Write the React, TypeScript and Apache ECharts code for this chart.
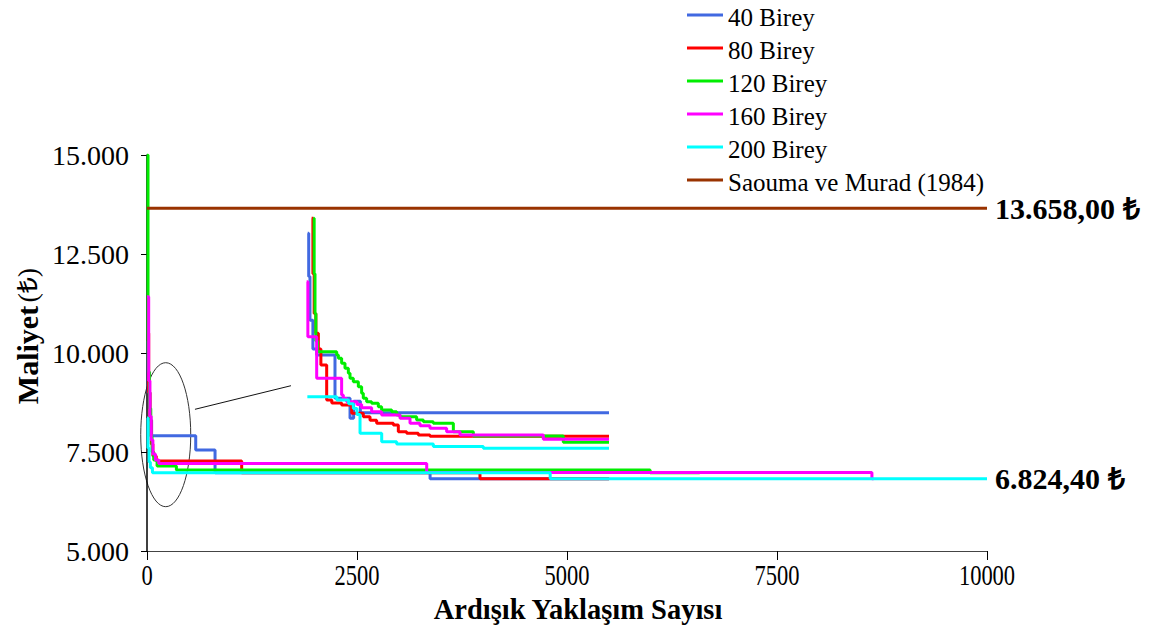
import React, { useEffect, useRef } from "react";
import * as echarts from "echarts";

// ---- axis ticks / labels ----
const X_TICKS = [0, 2500, 5000, 7500, 10000];
const Y_MIN = 5000;
const Y_MAX = 15000;
const Y_STEP = 2500;
const X_TITLE = "Ardışık Yaklaşım Sayısı";
const Y_TITLE_BOLD = "Maliyet";
const Y_TITLE_REST = "(₺)";

// ---- legend / series names ----
const NAMES = ["40 Birey", "80 Birey", "120 Birey", "160 Birey", "200 Birey", "Saouma ve Murad (1984)"];
const COLORS = ["#4169E1", "#FF0000", "#00EE00", "#FF00FF", "#00FFFF", "#993300"];

// ---- reference value ----
const SAOUMA_VALUE = 13658;
const SAOUMA_LINE = [[0, SAOUMA_VALUE], [10000, SAOUMA_VALUE]];
const RIGHT_LABELS = ["13.658,00 ₺", "6.824,40 ₺"];

// ---- main curves (x = iteration, y = best cost so far) ----
const blueMain = [[0, 10300], [15, 9000], [35, 8300], [55, 7912], [580, 7550], [810, 6975], [3370, 6824.4], [5500, 6824.4]];
const redMain = [[0, 10500], [20, 9000], [35, 8300], [50, 7700], [70, 7400], [110, 7273], [1127, 6975], [3964, 6824.4], [5500, 6824.4]];
const greenMain = [[0, 15000], [12, 10540], [18, 9520], [30, 8600], [45, 7900], [60, 7500], [80, 7300], [120, 7146], [350, 7045], [5990, 6975], [6580, 6975]];
const magentaMain = [[0, 11420], [20, 9300], [35, 8400], [50, 7800], [70, 7450], [100, 7300], [140, 7212], [3330, 6985], [8630, 6824.4], [8650, 6824.4]];
const cyanMain = [[0, 8360], [12, 7600], [25, 7250], [40, 7100], [65, 6975], [4800, 6824.4], [10000, 6824.4]];

// ---- zoomed inset curves ----
const blueInset = [[1913, 13022], [1925, 11930], [1940, 10830], [1975, 10100], [2020, 9949], [2238, 8855], [2417, 8350], [2460, 8780], [2540, 8493], [5500, 8493]];
const redInset = [[1960, 13400], [1975, 12000], [1990, 11000], [2010, 10500], [2040, 10100], [2070, 9700], [2139, 8813], [2200, 8740], [2317, 8687], [2437, 8476], [2575, 8392], [2655, 8300], [2734, 8224], [2933, 8182], [2992, 8013], [3091, 7971], [3230, 7929], [3369, 7900], [5500, 7900]];
const greenInset = [[1980, 13400], [1990, 12000], [2000, 11000], [2010, 10300], [2030, 10033], [2258, 9949], [2278, 9865], [2317, 9739], [2357, 9612], [2397, 9486], [2417, 9360], [2456, 9276], [2516, 9150], [2555, 8981], [2575, 8855], [2615, 8771], [2674, 8729], [2754, 8644], [2793, 8560], [2913, 8518], [2972, 8434], [3012, 8392], [3210, 8308], [3290, 8266], [3408, 8224], [3647, 8010], [3885, 7904], [4956, 7745], [5500, 7745]];
const magentaInset = [[1901, 11801], [1915, 10412], [2020, 9360], [2317, 8939], [2337, 8850], [2377, 8770], [2500, 8700], [2555, 8620], [2674, 8518], [2793, 8434], [3012, 8350], [3131, 8224], [3250, 8160], [3369, 8100], [3567, 8013], [3726, 7929], [4718, 7820], [5500, 7820]];
const cyanInset = [[1909, 8897], [2260, 8813], [2400, 8720], [2456, 8600], [2500, 8450], [2536, 7971], [2794, 7761], [2972, 7700], [3409, 7640], [4004, 7593], [5500, 7593]];

// ---- annotation anchors (data coords) ----
const ELLIPSE_CENTER = [223, 7937];
const CONNECTOR = [[571, 8578], [1714, 9174]];

const SERIF = "Liberation Serif";

function fmtThousands(v: number) {
  return String(v).replace(/\B(?=(\d{3})+(?!\d))/g, ".");
}

export default function App() {
  const ref = useRef<HTMLDivElement>(null);

  useEffect(() => {
    const chart = echarts.init(ref.current!, null, { renderer: "svg" });

    const endLabelStyle = {
      show: true,
      fontFamily: SERIF,
      fontWeight: "bold",
      fontSize: 30,
      color: "#000",
      distance: 8,
    };

    const mk = (idx: number, data: number[][], extra: any = {}) => ({
      type: "line",
      name: NAMES[idx],
      data,
      step: "end",
      symbol: "none",
      showSymbol: false,
      lineStyle: { color: COLORS[idx], width: 3 },
      itemStyle: { color: COLORS[idx] },
      emphasis: { disabled: true },
      ...extra,
    });

    const series = [
      mk(0, blueMain),
      mk(1, redMain),
      mk(2, greenMain),
      mk(3, magentaMain),
      mk(4, cyanMain, { endLabel: { ...endLabelStyle, formatter: RIGHT_LABELS[1] } }),
      mk(0, blueInset),
      mk(1, redInset),
      mk(2, greenInset),
      mk(3, magentaInset),
      mk(4, cyanInset),
      {
        type: "line",
        name: NAMES[5],
        data: SAOUMA_LINE,
        symbol: "none",
        showSymbol: false,
        lineStyle: { color: COLORS[5], width: 3 },
        itemStyle: { color: COLORS[5] },
        emphasis: { disabled: true },
        endLabel: { ...endLabelStyle, formatter: RIGHT_LABELS[0] },
      },
    ];

    chart.setOption({
      animation: false,
      textStyle: { fontFamily: SERIF },
      grid: { left: 147, right: 174, top: 155, bottom: 77, containLabel: false },
      xAxis: {
        type: "value",
        min: 0,
        max: 10000,
        interval: 2500,
        axisLine: { show: true, lineStyle: { color: "#444", width: 1 } },
        axisTick: { show: true, length: 9, lineStyle: { color: "#000" } },
        axisLabel: { show: false },
        splitLine: { show: false },
      },
      yAxis: {
        type: "value",
        min: Y_MIN,
        max: Y_MAX,
        interval: Y_STEP,
        axisLine: { show: true, lineStyle: { color: "#000", width: 1.5 } },
        axisTick: { show: true, length: 6, lineStyle: { color: "#000" } },
        axisLabel: {
          fontFamily: SERIF,
          fontSize: 28,
          color: "#000",
          margin: 18,
          formatter: (v: number) => fmtThousands(v),
        },
        splitLine: { show: false },
      },
      series,
    });

    const px = (p: number[]) => chart.convertToPixel({ gridIndex: 0 }, p) as number[];
    const c = px(ELLIPSE_CENTER);
    const a = px(CONNECTOR[0]);
    const b = px(CONNECTOR[1]);
    const baseY = px([0, Y_MIN])[1];

    const graphics: any[] = [
      {
        type: "ellipse",
        shape: { cx: c[0], cy: c[1], rx: 25, ry: 72 },
        style: { fill: "none", stroke: "#333", lineWidth: 1 },
        silent: true,
      },
      {
        type: "line",
        shape: { x1: a[0], y1: a[1], x2: b[0], y2: b[1] },
        style: { stroke: "#111", lineWidth: 1 },
        silent: true,
      },
    ];

    // legend (icons + labels)
    NAMES.forEach((n, i) => {
      const y = 15 + 33 * i;
      graphics.push({
        type: "line",
        silent: true,
        shape: { x1: 687, y1: y, x2: 723, y2: y },
        style: { stroke: COLORS[i], lineWidth: 3 },
      });
      graphics.push({
        type: "text",
        x: 728,
        y: y + 2,
        silent: true,
        style: {
          text: n,
          fontFamily: SERIF,
          fontSize: 25,
          fill: "#000",
          align: "left",
          verticalAlign: "middle",
          textAlign: "left",
          textVerticalAlign: "middle",
        },
      });
    });

    X_TICKS.forEach((t) => {
      const p = px([t, Y_MIN]);
      graphics.push({
        type: "text",
        x: p[0],
        y: baseY + 9,
        scaleX: 0.75,
        silent: true,
        style: {
          text: String(t),
          fontFamily: SERIF,
          fontSize: 30,
          fill: "#000",
          align: "center",
          verticalAlign: "top",
          textAlign: "center",
          textVerticalAlign: "top",
        },
      });
    });

    graphics.push({
      type: "text",
      x: 578,
      y: 609,
      scaleX: 0.95,
      silent: true,
      style: {
        text: X_TITLE,
        fontFamily: SERIF,
        fontWeight: "bold",
        fontSize: 30,
        fill: "#000",
        align: "center",
        verticalAlign: "middle",
        textAlign: "center",
        textVerticalAlign: "middle",
      },
    });

    graphics.push({
      type: "text",
      x: 27,
      y: 336,
      rotation: Math.PI / 2,
      silent: true,
      style: {
        text: `{b|${Y_TITLE_BOLD}} {n|${Y_TITLE_REST}}`,
        fill: "#000",
        align: "center",
        verticalAlign: "middle",
        textAlign: "center",
        textVerticalAlign: "middle",
        rich: {
          b: { fontFamily: SERIF, fontWeight: "bold", fontSize: 30, fill: "#000", color: "#000" },
          n: { fontFamily: SERIF, fontWeight: "normal", fontSize: 28, fill: "#000", color: "#000" },
        },
      },
    });

    chart.setOption({ graphic: graphics });

    return () => chart.dispose();
  }, []);

  return (
    <div
      ref={ref}
      style={{ position: "fixed", left: 0, top: 0, width: 1161, height: 628, background: "#fff" }}
    />
  );
}
